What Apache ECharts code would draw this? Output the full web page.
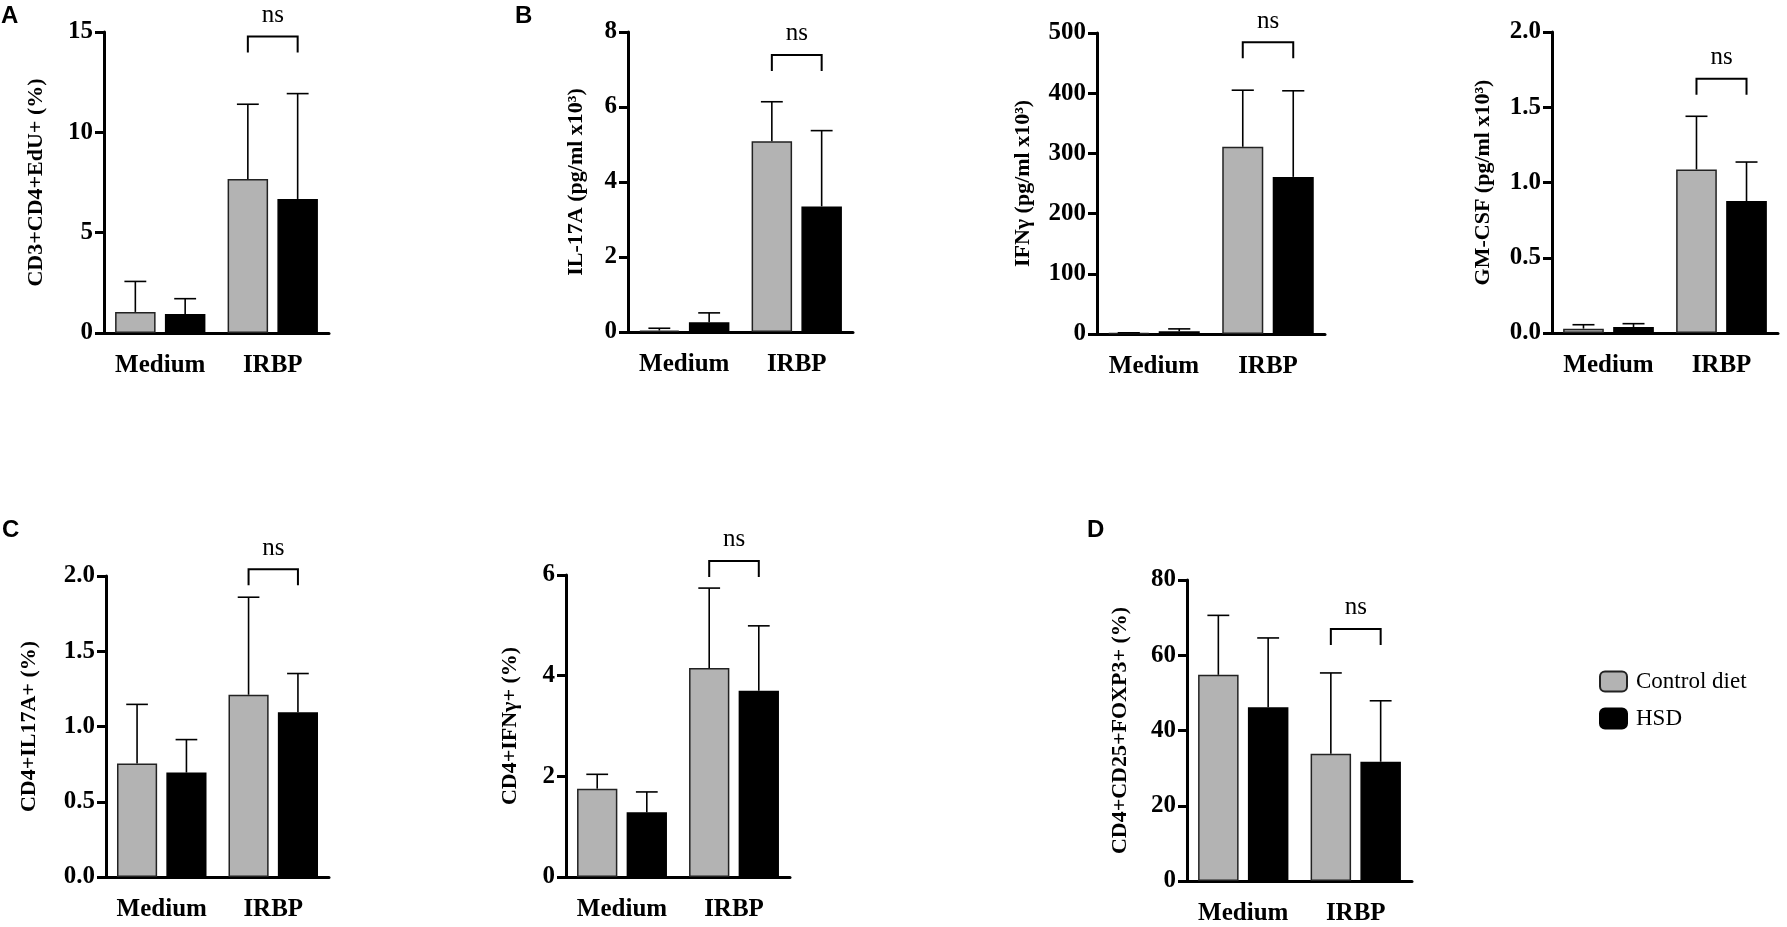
<!DOCTYPE html>
<html>
<head>
<meta charset="utf-8">
<script src="https://cdn.jsdelivr.net/npm/echarts@6/dist/echarts.min.js"></script>
<style>
  html, body { margin: 0; padding: 0; background: #fff; }
  #chart { width: 1787px; height: 927px; }
</style>
</head>
<body>
<div id="chart"></div>
<script>
// categories and groups
var categories = ['Medium', 'IRBP'];
var groupNames = ['Control diet', 'HSD'];

// A: CD3+CD4+EdU+ (%)
var eduCtrl = [1.05, 7.67], eduCtrlSd = [1.52, 3.73];
var eduHsd = [0.95, 6.68], eduHsdSd = [0.76, 5.25];
// B: IL-17A
var il17Ctrl = [0.04, 5.09], il17CtrlSd = [0.06, 1.05];
var il17Hsd = [0.26, 3.35], il17HsdSd = [0.25, 2.02];
// B: IFNγ
var ifnCtrl = [1.5, 311], ifnCtrlSd = [0.5, 94];
var ifnHsd = [4.5, 261], ifnHsdSd = [4, 143];
// B: GM-CSF
var gmCtrl = [0.029, 1.087], gmCtrlSd = [0.026, 0.353];
var gmHsd = [0.04, 0.877], gmHsdSd = [0.022, 0.259];
// C: CD4+IL17A+
var th17Ctrl = [0.754, 1.211], th17CtrlSd = [0.393, 0.648];
var th17Hsd = [0.694, 1.094], th17HsdSd = [0.219, 0.258];
// C: CD4+IFNγ+
var th1Ctrl = [1.755, 4.15], th1CtrlSd = [0.285, 1.59];
var th1Hsd = [1.285, 3.70], th1HsdSd = [0.405, 1.29];
// D: CD4+CD25+FOXP3+
var tregCtrl = [54.8, 33.8], tregCtrlSd = [15.8, 21.5];
var tregHsd = [46.2, 31.7], tregHsdSd = [18.4, 16.2];

// axis ranges and ticks
var yNames = ['CD3+CD4+EdU+ (%)', 'IL-17A (pg/ml x10³)', 'IFNγ (pg/ml x10³)', 'GM-CSF (pg/ml x10³)',
              'CD4+IL17A+ (%)', 'CD4+IFNγ+ (%)', 'CD4+CD25+FOXP3+ (%)'];
var yMax = [15, 8, 500, 2, 2, 6, 80];
var yStep = [5, 2, 100, 0.5, 0.5, 2, 20];
var yDigits = [0, 0, 0, 1, 1, 0, 0];

// significance brackets (on IRBP), height in axis units
var bracketAt = [14.77, 7.39, 484.5, 1.69, 2.045, 6.28, 67.0];
var sigLabel = ['ns', 'ns', 'ns', 'ns', 'ns', 'ns', 'ns'];

var panelData = [
  [eduCtrl, eduCtrlSd, eduHsd, eduHsdSd],
  [il17Ctrl, il17CtrlSd, il17Hsd, il17HsdSd],
  [ifnCtrl, ifnCtrlSd, ifnHsd, ifnHsdSd],
  [gmCtrl, gmCtrlSd, gmHsd, gmHsdSd],
  [th17Ctrl, th17CtrlSd, th17Hsd, th17HsdSd],
  [th1Ctrl, th1CtrlSd, th1Hsd, th1HsdSd],
  [tregCtrl, tregCtrlSd, tregHsd, tregHsdSd]
];

// layout (px)
var grids = [
  {left: 104, top: 32, width: 225, height: 301},
  {left: 628, top: 32, width: 225, height: 300},
  {left: 1097, top: 33, width: 228, height: 301},
  {left: 1552, top: 32, width: 226, height: 301},
  {left: 106, top: 576, width: 223, height: 301},
  {left: 566, top: 575, width: 224, height: 302},
  {left: 1187, top: 580, width: 225, height: 301}
];
var nameGaps = [57, 41, 63, 58, 66, 45, 56];

var SERIF = 'Liberation Serif';
var BAR_W = 0.36, BAR_GAP = 0.23;
var GRAY = '#b3b3b3';

function slotOffset(api, slot) {
  var band = api.size([1, 0])[0];
  var bw = band * BAR_W;
  return {bw: bw, off: bw * (0.5 + BAR_GAP / 2) * (slot === 0 ? -1 : 1)};
}

function errorSeries(i, slot, means, sds) {
  return {
    type: 'custom', xAxisIndex: i, yAxisIndex: i, z: 3, silent: true,
    encode: {x: 0, y: 1},
    data: means.map(function (m, k) { return [k, m, m + sds[k]]; }),
    renderItem: function (params, api) {
      var s = slotOffset(api, slot);
      var base = api.coord([api.value(0), api.value(1)]);
      var top = api.coord([api.value(0), api.value(2)]);
      var x = base[0] + s.off, cap = s.bw * 0.27;
      var st = {stroke: '#000', lineWidth: 1.6};
      return {type: 'group', children: [
        {type: 'line', shape: {x1: x, y1: base[1], x2: x, y2: top[1]}, style: st},
        {type: 'line', shape: {x1: x - cap, y1: top[1], x2: x + cap, y2: top[1]}, style: st}
      ]};
    }
  };
}

function bracketSeries(i) {
  return {
    type: 'custom', xAxisIndex: i, yAxisIndex: i, z: 4, silent: true, clip: false,
    encode: {x: 0, y: 1},
    data: [[1, bracketAt[i]]],
    renderItem: function (params, api) {
      var p = api.coord([api.value(0), api.value(1)]);
      var l = slotOffset(api, 0), r = slotOffset(api, 1);
      var xl = p[0] + l.off, xr = p[0] + r.off, y = p[1], leg = 16;
      return {type: 'group', children: [
        {type: 'polyline', shape: {points: [[xl, y + leg], [xl, y], [xr, y], [xr, y + leg]]},
         style: {stroke: '#000', lineWidth: 2, fill: null}},
        {type: 'text', x: p[0], y: y - 21,
         style: {text: sigLabel[i], fill: '#000', font: '25px "Liberation Serif"',
                 textAlign: 'center', textVerticalAlign: 'middle'}}
      ]};
    }
  };
}

var xAxes = [], yAxes = [], series = [];
grids.forEach(function (g, i) {
  xAxes.push({
    gridIndex: i, type: 'category', data: categories,
    axisLine: {lineStyle: {color: '#000', width: 3}},
    axisTick: {alignWithLabel: true, length: 13, lineStyle: {color: '#000', width: 3}},
    axisLabel: {interval: 0, color: '#000', fontFamily: SERIF, fontWeight: 'bold', fontSize: 25, margin: 20},
    splitLine: {show: false}
  });
  yAxes.push({
    gridIndex: i, type: 'value', min: 0, max: yMax[i], interval: yStep[i],
    axisLine: {show: true, lineStyle: {color: '#000', width: 3}},
    axisTick: {show: true, length: 9, lineStyle: {color: '#000', width: 3}},
    axisLabel: {color: '#000', fontFamily: SERIF, fontWeight: 'bold', fontSize: 25, margin: 11,
      formatter: (function (d) { return function (v) { return v.toFixed(d); }; })(yDigits[i])},
    splitLine: {show: false},
    name: yNames[i], nameLocation: 'middle', nameRotate: 90, nameGap: nameGaps[i],
    nameTextStyle: {color: '#000', fontFamily: SERIF, fontWeight: 'bold', fontSize: 22}
  });
  var d = panelData[i];
  series.push({
    type: 'bar', name: groupNames[0], xAxisIndex: i, yAxisIndex: i, data: d[0],
    barWidth: (BAR_W * 100) + '%', barGap: (BAR_GAP * 100) + '%',
    itemStyle: {color: GRAY, borderColor: '#222', borderWidth: 1.5}
  });
  series.push({
    type: 'bar', name: groupNames[1], xAxisIndex: i, yAxisIndex: i, data: d[2],
    barWidth: (BAR_W * 100) + '%', barGap: (BAR_GAP * 100) + '%',
    itemStyle: {color: '#000', borderColor: '#000', borderWidth: 1.5}
  });
  series.push(errorSeries(i, 0, d[0], d[1]));
  series.push(errorSeries(i, 1, d[2], d[3]));
  series.push(bracketSeries(i));
});

function letter(t, x, y) {
  return {type: 'text', left: x, top: y,
    style: {text: t, fill: '#000', font: 'bold 24px "Liberation Sans"'}};
}

var chart = echarts.init(document.getElementById('chart'));
chart.setOption({
  animation: false,
  backgroundColor: '#fff',
  grid: grids,
  xAxis: xAxes,
  yAxis: yAxes,
  series: series,
  legend: {
    data: groupNames, orient: 'vertical', left: 1594, top: 665,
    itemWidth: 27, itemHeight: 20, itemGap: 14,
    textStyle: {color: '#000', fontFamily: SERIF, fontSize: 23, padding: [0, 0, 0, 4]},
    selectedMode: false
  },
  graphic: [
    letter('A', 1, 4), letter('B', 515, 4), letter('C', 2, 518), letter('D', 1087, 518)
  ]
});
</script>
</body>
</html>
